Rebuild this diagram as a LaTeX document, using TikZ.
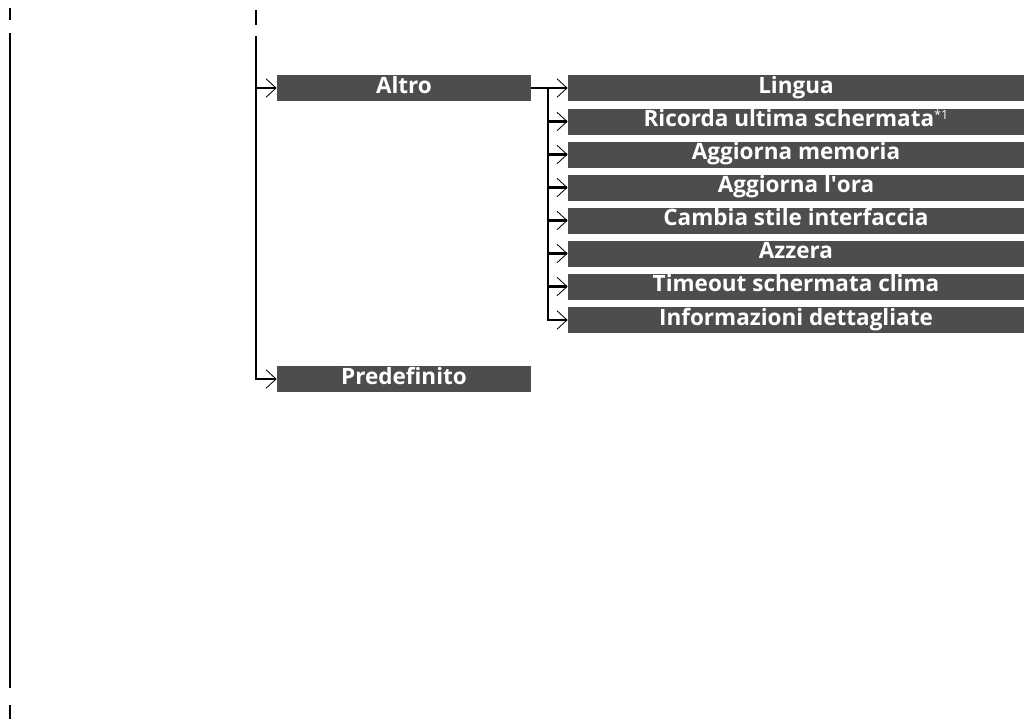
\documentclass[tikz,border=0pt]{standalone}
\usepackage{fontspec}
\setmainfont{Open Sans}
\usepackage{xcolor}
\usetikzlibrary{arrows.meta}
\definecolor{menugray}{HTML}{4D4D4D}

\begin{document}
\begin{tikzpicture}[x=0.025cm, y=-0.025cm,
  mbox/.style={rectangle, fill=menugray, text=white, align=center,
    font=\bfseries\fontsize{16}{18}\selectfont, minimum width=6.35cm, minimum height=0.65cm,
    inner sep=0pt, text height=13pt, text depth=5.5pt},
  sbox/.style={mbox, minimum width=11.4cm},
  arr/.style={-{Straight Barb[length=2.5mm, width=4.6mm, line width=0.6pt]}, line width=1.5pt},
  link/.style={line width=1.5pt},
  cropline/.style={line width=1.5pt}
]
\useasboundingbox (0,0) rectangle (1024,719);

% page marks
\draw[cropline] (10,8) -- (10,20);
\draw[cropline] (10,33) -- (10,688);
\draw[cropline] (10,705) -- (10,719);
\draw[cropline] (256,10) -- (256,25);

% first level
\coordinate (trunk) at (256,36);
\node[mbox] (altro) at (404,88) {Altro};
\node[mbox] (predef) at (404,379) {Predefinito};

% second level
\coordinate (fork) at (548,88);
\node[sbox] (s1) at (796,88) {Lingua};
\node[sbox] (s2) at (796,121.5) {Ricorda ultima schermata\raisebox{5pt}{\mdseries\fontsize{9}{9}\selectfont *1}};
\node[sbox] (s3) at (796,154.5) {Aggiorna memoria};
\node[sbox] (s4) at (796,187.5) {Aggiorna l\textquotesingle ora};
\node[sbox] (s5) at (796,220.5) {Cambia stile interfaccia};
\node[sbox] (s6) at (796,253.5) {Azzera};
\node[sbox] (s7) at (796,286.5) {Timeout schermata clima};
\node[sbox] (s8) at (796,320) {Informazioni dettagliate};

\draw[arr] (trunk) |- (predef.west);
\draw[arr] (trunk |- altro.west) -- (altro.west);
\draw[link] (altro.east) -- (fork);
\draw[arr] (fork) -- (s1.west);
\draw[arr] (fork |- s2.west) -- (s2.west);
\draw[arr] (fork |- s3.west) -- (s3.west);
\draw[arr] (fork |- s4.west) -- (s4.west);
\draw[arr] (fork |- s5.west) -- (s5.west);
\draw[arr] (fork |- s6.west) -- (s6.west);
\draw[arr] (fork |- s7.west) -- (s7.west);
\draw[arr] (fork) |- (s8.west);

\end{tikzpicture}
\end{document}
